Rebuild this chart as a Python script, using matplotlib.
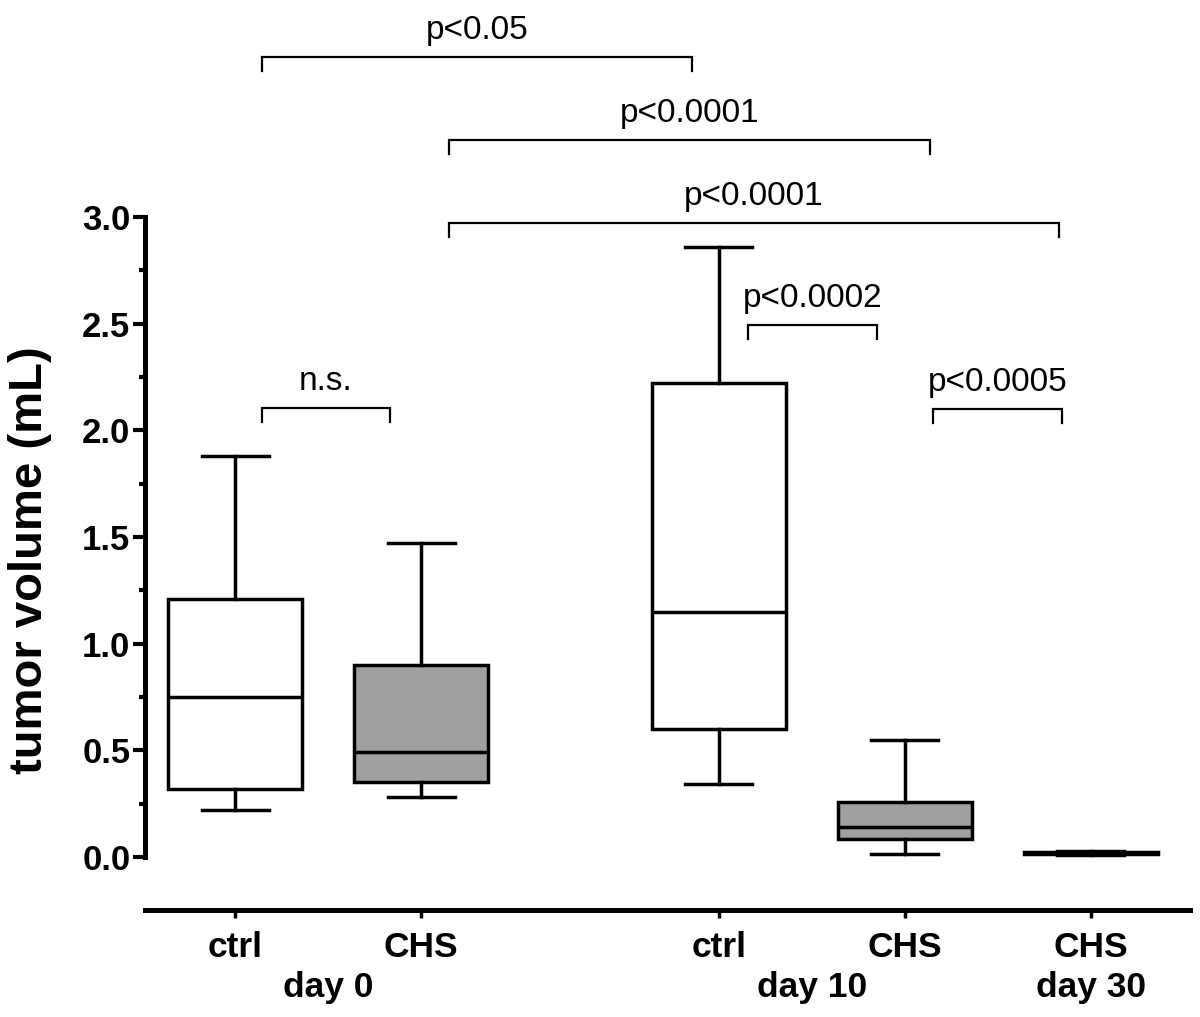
#!/usr/bin/env python3
# -*- coding: utf-8 -*-

"""
Box plot of tumor volume (mL) for control and CHS groups at day 0, 10 and 30,
with significance brackets above the boxes.
"""

import matplotlib as mpl
mpl.use('Agg')
import matplotlib.pyplot as plt
import matplotlib.transforms as mtransforms
import numpy as np

plt.rcParams['font.family'] = ['Liberation Sans', 'DejaVu Sans']

# Groups, in the order they are drawn.
groups = ['ctrl', 'CHS', 'ctrl', 'CHS', 'CHS']
group_day = [0, 0, 1, 1, 2]
days = ['day 0', 'day 10', 'day 30']
positions = [1.0, 2.0, 3.6, 4.6, 5.6]

# Box statistics (mL).
whisker_low = [0.22, 0.28, 0.34, 0.015, 0.01]
q1 = [0.32, 0.35, 0.60, 0.085, 0.015]
median = [0.75, 0.49, 1.15, 0.14, 0.02]
q3 = [1.21, 0.90, 2.22, 0.26, 0.025]
whisker_high = [1.88, 1.47, 2.86, 0.55, 0.03]
treated = [False, True, False, True, True]

# Significance brackets: label, left end, right end, height.
comp_labels = ['p<0.05', 'p<0.0001', 'p<0.0001', 'n.s.', 'p<0.0002', 'p<0.0005']
comp_left = [1.145, 2.151, 2.151, 1.145, 3.758, 4.753]
comp_right = [3.457, 4.737, 5.43, 1.833, 4.45, 5.446]
comp_height = [3.75, 3.361, 2.972, 2.105, 2.494, 2.10]

W, H = 1200, 1017
fig = plt.figure(figsize = (W / 100, H / 100), dpi = 100)
ax = fig.add_axes([145 / W, 1 - 910 / H, 1045 / W, 900 / H])

ax.set_xlim(0.516, 6.134)
ax.set_ylim(-0.2484, 3.9703)

# Boxes.
stats = []
for i in range(len(groups)):
    stats.append({
        'whislo': whisker_low[i],
        'q1': q1[i],
        'med': median[i],
        'q3': q3[i],
        'whishi': whisker_high[i],
        'fliers': [],
    })

lw = 2.5
bp = ax.bxp(
    stats,
    positions = positions,
    widths = 0.72,
    capwidths = 0.36,
    patch_artist = True,
    showfliers = False,
    boxprops = dict(linewidth = lw, edgecolor = 'black'),
    whiskerprops = dict(linewidth = lw, color = 'black'),
    capprops = dict(linewidth = lw, color = 'black'),
    medianprops = dict(linewidth = lw, color = 'black'),
)
for patch, t in zip(bp['boxes'], treated):
    patch.set_facecolor('#a0a0a0' if t else 'white')

# Spines.
for side in ('top', 'right'):
    ax.spines[side].set_visible(False)
ax.spines['left'].set_linewidth(3.6)
ax.spines['bottom'].set_linewidth(3.6)
ax.spines['left'].set_bounds(0, 3)

# Y axis ticks.
ax.set_yticks(np.arange(0, 3.01, 0.5))
ax.set_yticks(np.arange(0.25, 3.0, 0.5), minor = True)
ax.set_yticklabels(['{:.1f}'.format(v) for v in np.arange(0, 3.01, 0.5)])
ax.tick_params(axis = 'y', which = 'major', direction = 'out', length = 8.5,
               width = 3.0, pad = 2, labelsize = 25)
ax.tick_params(axis = 'y', which = 'minor', direction = 'out', length = 4.5,
               width = 3.0)
for lab in ax.get_yticklabels():
    lab.set_fontweight('bold')

# X axis ticks.
ax.set_xticks(positions)
ax.set_xticklabels(groups, fontweight = 'bold')
ax.tick_params(axis = 'x', direction = 'out', length = 6, width = 2.5,
               pad = 9, labelsize = 25.5)

# Day labels under the group labels.
trans = mtransforms.blended_transform_factory(ax.transData, ax.transAxes)
for d, name in enumerate(days):
    xs = [p for p, g in zip(positions, group_day) if g == d]
    ax.text(np.mean(xs), -0.086, name, transform = trans, ha = 'center',
            va = 'center', fontsize = 25.5, fontweight = 'bold')

# Y label.
fig.text(30 / W, 1 - 560 / H, 'tumor volume (mL)', rotation = 90,
         ha = 'center', va = 'center', fontsize = 34, fontweight = 'bold')

# Significance brackets.
drop = 0.065
for lab, x0, x1, y in zip(comp_labels, comp_left, comp_right, comp_height):
    ax.plot([x0, x0, x1, x1], [y - drop, y, y, y - drop], color = 'black',
            linewidth = 1.6, solid_joinstyle = 'miter', clip_on = False)
    ax.text((x0 + x1) / 2, y + 0.125, lab, ha = 'center', va = 'center',
            fontsize = 24)

fig.savefig('out.png', dpi = 100)
